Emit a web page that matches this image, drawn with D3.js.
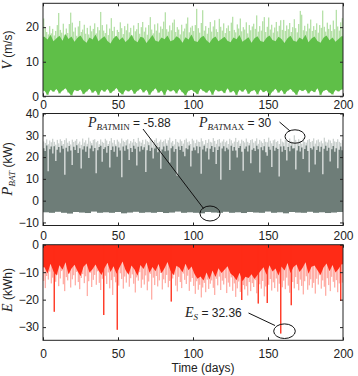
<!DOCTYPE html>
<html lang="en">
<head>
<meta charset="utf-8">
<title>Wind speed, battery power and stored energy</title>
<script src="https://cdn.jsdelivr.net/npm/d3@7"></script>
<style>
  body { margin: 0; background: #fff; }
  svg { display: block; }
  .tick text { font-family: "Liberation Sans", Arial, sans-serif; font-size: 12px; fill: #222; }
  .tick line { stroke: #222; }
  .lbl { font-family: "Liberation Sans", Arial, sans-serif; font-size: 12px; fill: #222; }
  .it { font-family: "Liberation Serif", "Times New Roman", serif; font-style: italic; }
  .rm { font-family: "Liberation Serif", "Times New Roman", serif; }
</style>
</head>
<body>
<div id="chart"></div>
<script>
// ---- values (one per day, or per 2/4 days) ----
var xTicks = [0, 50, 100, 150, 200];
var vTicks = [0, 10, 20];
var pTicks = [-10, 0, 10, 20, 30, 40];
var eTicks = [-30, -20, -10, 0];

// wind speed: daily peak, body top (2 days), floor (2 days)
var vPeak = [
  22.5, 19.8, 18.6, 17.9, 20.3, 18.2, 19.5, 17.6, 18.9, 20.6, 24.1, 19.2, 18.4, 21.0, 17.8, 19.6, 18.3, 20.9, 24.2, 21.3,
  18.7, 19.9, 17.5, 20.2, 21.8, 18.6, 19.3, 20.7, 18.1, 19.8, 17.9, 20.4, 18.8, 19.5, 21.1, 18.2, 20.0, 19.1, 24.4, 20.6,
  19.0, 18.3, 20.8, 17.7, 19.6, 22.6, 18.9, 20.1, 17.4, 19.2, 18.6, 21.4, 19.7, 18.0, 20.3, 19.1, 21.0, 18.5, 19.8, 17.6,
  20.5, 18.8, 19.4, 21.2, 18.1, 20.0, 21.5, 18.7, 19.9, 17.8, 20.6, 22.9, 19.3, 18.2, 20.8, 19.0, 21.1, 18.4, 20.2, 19.5,
  21.6, 24.3, 19.4, 18.7, 20.5, 19.1, 21.3, 22.2, 18.6, 20.0, 19.3, 17.9, 20.7, 18.8, 19.6, 21.0, 22.8, 18.5, 19.9, 20.4,
  18.9, 20.6, 25.3, 19.7, 18.4, 21.2, 24.9, 19.0, 20.3, 18.1, 19.8, 21.5, 18.7, 20.2, 22.0, 19.4, 18.6, 22.4, 20.1, 19.0,
  21.1, 18.3, 19.7, 20.5, 18.9, 21.3, 23.0, 19.2, 18.5, 20.8, 19.6, 22.5, 18.8, 20.0, 19.3, 21.4, 18.2, 20.6, 19.1, 20.2,
  21.0, 19.5, 23.4, 18.7, 20.3, 19.0, 21.7, 22.9, 18.6, 20.1, 22.8, 19.3, 20.7, 18.4, 19.9, 21.5, 18.8, 20.4, 22.0, 19.2,
  22.1, 18.9, 20.5, 19.4, 21.2, 18.6, 20.0, 22.3, 19.7, 18.5, 20.9, 24.7, 23.6, 19.1, 20.4, 18.8, 21.0, 19.6, 22.2, 18.9,
  20.3, 19.2, 21.1, 18.4, 20.6, 19.8, 24.8, 20.1, 18.7, 21.3, 19.5, 20.7, 18.9, 21.9, 19.4, 25.0, 20.2, 19.0, 21.4, 22.6
];
var vTop = [
  17.2, 16.4, 17.8, 15.9, 16.8, 17.5, 16.1, 18.0, 16.6, 17.3, 15.8, 16.9, 17.6, 16.2, 15.5, 17.0, 16.4, 17.9, 15.9, 16.7,
  17.4, 16.0, 15.3, 16.8, 17.5, 16.3, 17.1, 15.7, 16.5, 17.8, 16.2, 15.6, 17.2, 16.9, 15.4, 16.6, 17.7, 16.1, 15.8, 17.0,
  16.5, 17.6, 15.9, 16.3, 17.4, 16.8, 15.5, 17.1, 16.4, 17.9, 16.0, 15.7, 16.9, 17.5, 16.2, 15.4, 16.7, 17.3, 15.9, 16.6,
  17.2, 16.1, 15.6, 17.0, 16.5, 17.7, 15.8, 16.4, 17.1, 15.5, 16.8, 17.4, 16.0, 15.7, 16.9, 17.6, 16.3, 15.9, 17.2, 16.6,
  15.4, 16.8, 17.5, 16.1, 15.8, 17.0, 16.4, 17.8, 15.6, 16.7, 17.3, 16.0, 15.5, 16.9, 17.6, 16.2, 17.0, 15.8, 16.6, 17.4
];
var vLow = [
  1.6, 0.4, 1.9, 1.3, 2.1, 0.8, 1.7, 2.3, 1.1, 0.2, 1.8, 1.5, 2.0, 0.6, 1.4, 2.2, 1.0, 1.7, 0.3, 1.9,
  1.3, 2.1, 0.9, 1.6, 2.4, 1.2, 0.5, 1.8, 1.4, 2.0, 0.7, 1.6, 2.2, 1.1, 1.9, 0.4, 1.5, 2.3, 1.0, 1.7,
  0.3, 2.0, 1.4, 1.8, 0.8, 2.1, 1.2, 0.2, 1.6, 1.9, 1.3, 0.6, 2.2, 1.5, 1.0, 1.8, 0.4, 2.0, 1.4, 1.7,
  0.9, 2.3, 1.1, 1.6, 0.3, 1.9, 1.3, 2.1, 0.7, 1.5, 1.8, 0.5, 2.0, 1.2, 1.7, 0.2, 1.4, 2.2, 1.0, 1.8,
  0.6, 1.6, 2.1, 1.3, 0.4, 1.9, 1.5, 2.0, 0.8, 1.7, 1.2, 2.3, 0.3, 1.6, 1.9, 1.1, 0.5, 1.8, 1.4, 2.0
];

// battery power: daily peak, daily body top, floor (4 days)
var pPeak = [
  27.2, 26.5, 28.1, 25.9, 27.6, 26.8, 28.4, 27.0, 25.7, 27.9, 26.3, 28.2, 27.4, 26.0, 27.8, 28.6, 26.6, 27.3, 25.8, 28.0,
  26.9, 27.5, 28.3, 26.2, 27.1, 25.6, 28.5, 26.7, 27.7, 26.1, 28.9, 27.2, 26.4, 27.9, 28.2, 26.8, 27.4, 25.9, 28.1, 27.0,
  26.5, 28.4, 27.6, 26.0, 27.3, 28.7, 26.6, 27.8, 25.8, 28.0, 27.1, 26.3, 28.5, 27.5, 26.9, 27.7, 28.2, 26.2, 27.4, 26.7,
  28.3, 27.0, 26.4, 28.8, 27.2, 26.6, 27.9, 25.9, 28.1, 27.3, 26.8, 28.4, 27.6, 26.1, 27.8, 28.6, 26.5, 27.1, 28.0, 26.9,
  27.5, 28.2, 26.3, 27.7, 28.9, 26.7, 27.4, 25.8, 28.3, 27.0, 26.6, 28.1, 27.3, 26.2, 27.9, 28.5, 26.8, 27.2, 26.0, 28.4,
  27.6, 26.4, 28.0, 27.1, 26.9, 28.6, 27.3, 25.9, 27.8, 26.5, 28.2, 27.0, 26.7, 28.7, 27.4, 26.1, 27.9, 28.3, 26.6, 27.2,
  28.1, 26.8, 27.5, 26.0, 28.4, 27.7, 26.3, 27.1, 28.8, 26.9, 27.6, 26.2, 28.0, 27.4, 26.7, 28.5, 27.0, 26.4, 27.8, 28.2,
  26.6, 27.3, 28.6, 26.1, 27.9, 27.2, 26.5, 28.3, 27.0, 26.8, 28.9, 27.5, 26.3, 27.7, 28.1, 26.9, 27.4, 26.0, 28.4, 27.1,
  26.7, 28.0, 27.6, 26.4, 28.5, 27.2, 26.8, 30.0, 27.9, 26.5, 28.2, 27.3, 26.1, 28.7, 27.0, 26.6, 27.8, 28.3, 26.9, 27.4,
  28.6, 26.2, 27.7, 28.1, 26.8, 27.5, 26.3, 28.9, 27.1, 26.7, 28.0, 27.6, 26.4, 28.4, 27.2, 26.9, 28.2, 27.0, 26.5, 27.8
];
var pTop = [
  24.1, 22.8, 25.3, 13.5, 23.6, 24.9, 21.7, 25.0, 18.2, 23.4, 24.6, 22.1, 25.2, 23.8, 11.9, 24.3, 22.6, 25.1, 23.0, 16.4,
  24.7, 23.2, 25.4, 21.9, 24.0, 14.8, 23.5, 25.0, 22.4, 24.8, 19.6, 23.9, 25.3, 22.7, 24.2, 12.6, 23.1, 24.6, 25.2, 17.8,
  23.7, 24.5, 22.0, 25.1, 15.2, 23.3, 24.8, 22.5, 25.0, 20.1, 24.4, 23.0, 10.8, 24.9, 22.9, 25.3, 23.6, 18.7, 24.2, 22.3,
  25.2, 23.8, 16.1, 24.7, 22.6, 25.0, 23.4, 24.5, 13.2, 23.1, 25.4, 22.8, 24.3, 19.3, 23.9, 25.1, 22.2, 24.6, 14.6, 23.5,
  24.8, 22.7, 25.2, 23.0, 17.5, 24.1, 25.0, 22.4, 23.7, 11.4, 24.9, 23.3, 25.1, 22.5, 20.4, 24.0, 23.6, 25.3, 15.7, 22.9,
  24.4, 23.1, 25.0, 21.8, 24.7, 12.3, 23.5, 25.2, 22.6, 24.1, 18.9, 23.8, 25.1, 22.3, 24.5, 16.8, 23.2, 24.8, 9.6, 23.9,
  25.0, 22.7, 24.3, 23.5, 14.1, 25.2, 22.9, 24.6, 23.0, 19.8, 24.2, 25.1, 22.4, 13.7, 23.8, 24.9, 22.6, 25.3, 17.2, 23.4,
  24.0, 22.8, 25.2, 23.6, 12.9, 24.5, 23.1, 25.0, 22.2, 20.6, 24.7, 23.4, 15.5, 25.1, 22.9, 24.3, 23.7, 11.1, 24.8, 22.5,
  25.0, 23.3, 18.4, 24.6, 22.7, 25.2, 23.9, 24.1, 14.3, 23.0, 25.1, 22.6, 24.4, 19.1, 23.7, 25.3, 22.8, 13.0, 24.2, 23.5,
  24.9, 16.6, 23.2, 25.0, 22.4, 24.7, 12.1, 23.8, 25.2, 22.9, 24.3, 18.0, 23.6, 25.1, 22.5, 24.0, 14.9, 23.4, 24.8, 23.1
];
var pBase = [
  -5.3, -5.6, -5.1, -5.5, -5.88, -5.2, -5.4, -5.7, -5.0, -5.5, -5.3, -5.6, -5.2, -5.8, -5.4, -5.1, -5.6, -5.3, -5.5, -5.2,
  -5.7, -5.4, -5.0, -5.6, -5.3, -5.5, -5.8, -5.2, -5.4, -5.6, -5.1, -5.5, -5.3, -5.7, -5.2, -5.4, -5.6, -5.0, -5.5, -5.3,
  -5.8, -5.2, -5.4, -5.6, -5.1, -5.5, -5.3, -5.7, -5.4, -5.2
];

// stored energy: daily minimum (spikes), body bottom (2 days)
var ePeak = [
  -13.2, -15.8, -11.4, -12.7, -9.8, -14.1, -12.0, -24.4, -13.5, -10.9, -15.1, -12.3, -9.6, -14.4, -16.9, -11.8, -13.0, -10.5, -15.6, -12.6,
  -11.1, -14.8, -9.9, -13.6, -16.2, -12.1, -10.7, -14.0, -11.5, -18.7, -13.3, -10.2, -15.4, -12.8, -11.0, -14.6, -9.7, -13.9, -16.5, -12.4,
  -25.6, -11.3, -14.3, -10.1, -15.9, -12.9, -18.3, -11.7, -13.7, -31.0, -14.9, -10.4, -12.5, -16.0, -11.6, -13.8, -9.5, -15.3, -12.2, -10.8,
  -14.2, -17.4, -11.9, -13.1, -10.0, -15.7, -12.7, -14.5, -11.2, -16.6, -13.4, -10.6, -20.0, -12.0, -14.7, -11.4, -15.2, -13.0, -10.3, -16.3,
  -12.6, -14.0, -11.0, -15.5, -13.2, -20.7, -12.3, -10.9, -14.9, -17.0, -11.7, -13.6, -15.8, -10.5, -12.8, -14.3, -11.3, -16.8, -13.5, -12.1,
  -15.0, -17.9, -13.3, -16.4, -14.6, -19.2, -15.6, -13.9, -17.3, -12.7, -16.1, -14.2, -13.0, -15.7, -18.3, -12.4, -14.8, -11.6, -16.5, -13.1,
  -14.5, -12.2, -17.6, -13.8, -15.3, -11.9, -16.8, -14.1, -19.0, -15.9, -13.4, -17.2, -20.1, -14.7, -16.3, -15.1, -18.5, -13.6, -16.9, -14.0,
  -15.4, -12.9, -17.7, -21.4, -14.4, -16.0, -13.2, -18.8, -15.2, -21.2, -14.6, -12.5, -16.7, -13.7, -15.8, -12.3, -17.1, -14.2, -32.36, -15.5,
  -13.1, -16.2, -12.0, -14.9, -17.5, -22.0, -13.6, -15.9, -11.8, -14.3, -16.6, -12.7, -15.0, -18.1, -13.3, -11.5, -16.4, -14.8, -12.6, -15.7,
  -13.9, -17.8, -12.4, -14.5, -11.1, -16.0, -13.0, -15.3, -18.6, -12.2, -14.7, -16.9, -11.7, -13.5, -15.6, -12.9, -17.3, -14.1, -20.5, -13.8
];
var eBody = [
  -8.2, -10.5, -6.9, -9.8, -11.2, -7.5, -9.1, -6.4, -10.8, -8.7, -7.3, -9.6, -11.5, -8.0, -6.8, -10.1, -8.9, -7.2, -9.4, -11.0,
  -8.5, -6.6, -9.9, -7.8, -10.6, -8.3, -6.1, -9.2, -10.9, -7.6, -9.0, -11.3, -7.4, -8.8, -6.5, -10.2, -8.1, -9.7, -7.0, -10.4,
  -8.6, -6.3, -9.5, -11.1, -7.7, -8.4, -10.0, -6.9, -9.3, -7.9, -10.7, -12.4, -11.6, -13.0, -10.1, -12.7, -9.4, -11.8, -8.6, -10.3,
  -9.1, -7.8, -10.5, -11.4, -12.9, -10.2, -13.3, -11.7, -12.1, -10.8, -12.5, -11.0, -9.6, -8.2, -10.9, -7.5, -9.8, -8.7, -11.2, -7.9,
  -9.4, -6.7, -10.3, -8.1, -7.2, -9.9, -8.5, -6.4, -10.6, -8.0, -7.6, -9.3, -11.0, -8.3, -6.8, -9.7, -7.4, -10.1, -8.8, -7.1
];

var svg = d3.select("#chart").append("svg")
    .attr("width", 358)
    .attr("height", 376);

var x = d3.scaleLinear().domain([0, 200]).range([43, 343]);

var panels = [
  { id: "v", y: d3.scaleLinear().domain([0, 26.9]).range([96.3, 3.3]), ticks: vTicks, pad: 4.3,
    body: "#5fbf48", light: "#9fd78d", curve: d3.curveLinear },
  { id: "p", y: d3.scaleLinear().domain([-11.4, 40]).range([225.5, 113.5]), ticks: pTicks, pad: 6,
    body: "#6e7d78", light: "#bcc4c1", curve: d3.curveStepAfter },
  { id: "e", y: d3.scaleLinear().domain([-34.8, 0]).range([340.3, 244.7]), ticks: eTicks, pad: 9.3,
    body: "#ff2b16", light: "#ff958a", curve: d3.curveLinear }
];

// spike segments [day, from, to] and body areas [xDay, y0, y1]
panels[0].spikes = vPeak.map(function(d, i) { return [i + 0.5, vLow[i >> 1], d]; });
panels[0].area = vTop.map(function(d, i) { return [2 * i + 1, vLow[i], d]; });
panels[1].spikes = pPeak.map(function(d, i) { return [i + 0.5, pBase[i >> 2], d]; });
panels[1].area = pTop.map(function(d, i) { return [i, pBase[i >> 2], d]; });
panels[2].spikes = ePeak.map(function(d, i) { return [i + 0.5, 0, d]; });
panels[2].area = eBody.map(function(d, i) { return [2 * i + 1, 0, d]; });

panels.forEach(function(p) {
  var r = p.y.range();
  var top = r[1], bottom = r[0];
  var first = p.area[0], last = p.area[p.area.length - 1];
  p.area.unshift([0, first[1], first[2]]);
  p.area.push([200, last[1], last[2]]);

  svg.append("clipPath").attr("id", "clip-" + p.id)
    .append("rect")
      .attr("x", 43).attr("y", top)
      .attr("width", 300).attr("height", bottom - top);

  var g = svg.append("g").attr("clip-path", "url(#clip-" + p.id + ")");

  g.selectAll("line.spike")
    .data(p.spikes)
    .join("line")
      .attr("class", "spike")
      .attr("x1", function(d) { return x(d[0]); })
      .attr("x2", function(d) { return x(d[0]); })
      .attr("y1", function(d) { return p.y(d[1]); })
      .attr("y2", function(d) { return p.y(d[2]); })
      .attr("stroke", p.light)
      .attr("stroke-width", 1);

  g.append("path")
    .datum(p.area)
    .attr("fill", p.body)
    .attr("d", d3.area()
      .curve(p.curve)
      .x(function(d) { return x(d[0]); })
      .y0(function(d) { return p.y(d[1]); })
      .y1(function(d) { return p.y(d[2]); }));

  // the deepest energy draws stay dark
  if (p.id === "e") {
    g.selectAll("line.deep")
      .data(p.spikes.filter(function(d) { return d[2] < -20; }))
      .join("line")
        .attr("x1", function(d) { return x(d[0]); })
        .attr("x2", function(d) { return x(d[0]); })
        .attr("y1", function(d) { return p.y(d[1]); })
        .attr("y2", function(d) { return p.y(d[2]); })
        .attr("stroke", p.body)
        .attr("stroke-width", 1.2);
  }

  // MATLAB style box with inward ticks on all sides
  svg.append("g")
    .attr("transform", "translate(0," + bottom + ")")
    .call(d3.axisBottom(x).tickValues(xTicks).tickSize(-3).tickPadding(p.pad))
    .call(function(a) { a.select(".domain").remove(); });
  svg.append("g")
    .attr("transform", "translate(0," + top + ")")
    .call(d3.axisTop(x).tickValues(xTicks).tickSize(-3).tickFormat(""))
    .call(function(a) { a.select(".domain").remove(); });
  svg.append("g")
    .attr("transform", "translate(43,0)")
    .call(d3.axisLeft(p.y).tickValues(p.ticks).tickSize(-3).tickPadding(4))
    .call(function(a) { a.select(".domain").remove(); });
  svg.append("g")
    .attr("transform", "translate(343,0)")
    .call(d3.axisRight(p.y).tickValues(p.ticks).tickSize(-3).tickFormat(""))
    .call(function(a) { a.select(".domain").remove(); });

  svg.append("rect")
    .attr("x", 43).attr("y", top)
    .attr("width", 300).attr("height", bottom - top)
    .attr("fill", "none")
    .attr("stroke", "#222")
    .attr("stroke-width", 1);
});

// y axis titles
var vt = svg.append("text").attr("class", "lbl")
    .attr("transform", "translate(12,50)rotate(-90)")
    .attr("text-anchor", "middle");
vt.append("tspan").attr("class", "it").style("font-size", "14px").text("V");
vt.append("tspan").text("  (m/s)");

var pt = svg.append("text").attr("class", "lbl")
    .attr("transform", "translate(12,169)rotate(-90)")
    .attr("text-anchor", "middle");
pt.append("tspan").attr("class", "it").style("font-size", "15px").text("P");
pt.append("tspan").attr("class", "it").style("font-size", "9px").attr("dy", 3).text("BAT");
pt.append("tspan").attr("dy", -3).text(" (kW)");

var et = svg.append("text").attr("class", "lbl")
    .attr("transform", "translate(12,290)rotate(-90)")
    .attr("text-anchor", "middle");
et.append("tspan").attr("class", "it").style("font-size", "14px").text("E");
et.append("tspan").text(" (kWh)");

svg.append("text").attr("class", "lbl")
    .attr("x", 203).attr("y", 372)
    .attr("text-anchor", "middle")
    .text("Time (days)");

// annotations
var ann = svg.append("g").attr("fill", "none").attr("stroke", "#111").attr("stroke-width", 1);

var a1 = svg.append("text").attr("class", "lbl").attr("x", 88).attr("y", 127);
a1.append("tspan").attr("class", "it").style("font-size", "14px").text("P");
a1.append("tspan").attr("class", "it").style("font-size", "9px").attr("dy", 3).text("BAT");
a1.append("tspan").attr("class", "rm").style("font-size", "9px").text("MIN");
a1.append("tspan").attr("dy", -3).text(" = -5.88");
ann.append("line").attr("x1", 143).attr("y1", 129).attr("x2", 203.5).attr("y2", 208.5);
ann.append("ellipse").attr("cx", 210).attr("cy", 213.5).attr("rx", 10).attr("ry", 7.5);

var a2 = svg.append("text").attr("class", "lbl").attr("x", 199).attr("y", 127);
a2.append("tspan").attr("class", "it").style("font-size", "14px").text("P");
a2.append("tspan").attr("class", "it").style("font-size", "9px").attr("dy", 3).text("BAT");
a2.append("tspan").attr("class", "rm").style("font-size", "9px").text("MAX");
a2.append("tspan").attr("dy", -3).text(" = 30");
ann.append("line").attr("x1", 279.5).attr("y1", 122).attr("x2", 290).attr("y2", 131);
ann.append("ellipse").attr("cx", 295).attr("cy", 136.5).attr("rx", 10).attr("ry", 6.7);

var a3 = svg.append("text").attr("class", "lbl").attr("x", 185).attr("y", 317);
a3.append("tspan").attr("class", "it").style("font-size", "14px").text("E");
a3.append("tspan").attr("class", "it").style("font-size", "9px").attr("dy", 3).text("S");
a3.append("tspan").attr("dy", -3).text(" = 32.36");
ann.append("line").attr("x1", 248.5).attr("y1", 313).attr("x2", 275).attr("y2", 325.5);
ann.append("ellipse").attr("cx", 284.5).attr("cy", 331.2).attr("rx", 10.8).attr("ry", 7.3);
</script>
</body>
</html>
